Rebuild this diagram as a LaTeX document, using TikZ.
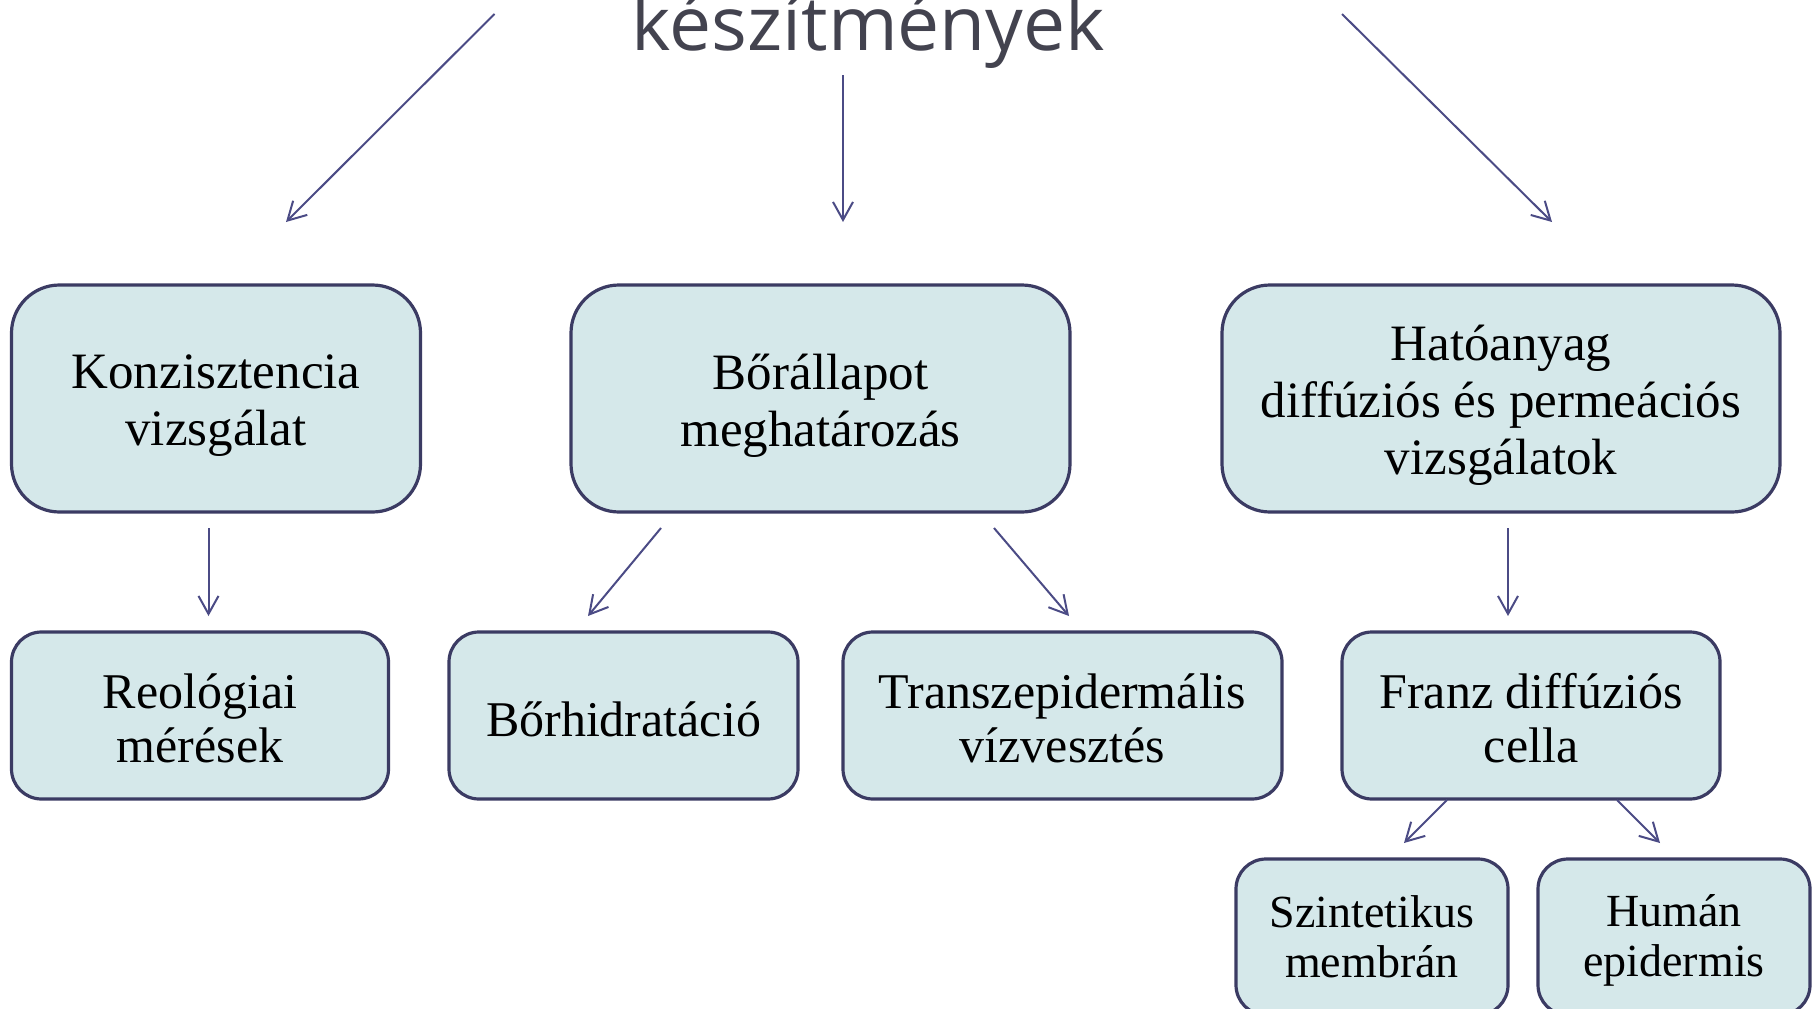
\documentclass[tikz,border=0pt]{standalone}
\usepackage{fontspec}
\setmainfont{Liberation Serif}
\newfontfamily\titlefont{Open Sans}
\usetikzlibrary{arrows.meta}
\definecolor{boxfill}{HTML}{D5E8EA}
\definecolor{boxline}{HTML}{3B3B63}
\definecolor{arrowcol}{HTML}{4B4B85}
\definecolor{titlecol}{HTML}{43434F}
\newcommand\tstrut[1]{\rule{0pt}{#1}}
\tikzset{
  box/.style={draw=boxline, fill=boxfill, line width=3.2pt, align=center, inner sep=0pt},
  bigbox/.style={box, rounded corners=48pt, minimum height=227pt, font=\fontsize{51}{57}\selectfont},
  midbox/.style={box, rounded corners=30pt, minimum height=167pt, font=\fontsize{50}{54}\selectfont},
  smallbox/.style={box, rounded corners=30pt, minimum height=156pt, font=\fontsize{46}{50}\selectfont},
  conn/.style={draw=arrowcol, line width=2pt, -{Straight Barb[length=18pt,width=20pt,line width=2pt]}}
}
\begin{document}
\begin{tikzpicture}[x=1pt,y=-1pt]
\useasboundingbox (0,0) rectangle (1816,1009);
\clip (0,0) rectangle (1816,1009);
\node[anchor=base, font=\titlefont\fontsize{75}{85}\selectfont, text=titlecol] (title) at (868.5,50) {készítmények};

\node[bigbox, minimum width=409pt] (K) at (216,398.5) {\tstrut{48pt}Konzisztencia\\vizsgálat};
\node[bigbox, minimum width=499pt] (B) at (820.5,398.5) {\tstrut{50pt}Bőrállapot\\meghatározás};
\node[bigbox, minimum width=558pt] (H) at (1501,398.5) {\tstrut{48pt}Hatóanyag\\diffúziós és permeációs\\vizsgálatok};

\node[midbox, minimum width=377pt] (R) at (200,715.5) {\tstrut{40pt}Reológiai\\mérések};
\node[midbox, minimum width=349pt] (BH) at (623.5,715.5) {\tstrut{42pt}Bőrhidratáció};
\node[midbox, minimum width=439pt] (T) at (1062.5,715.5) {\tstrut{40pt}Transzepidermális\\vízvesztés};
\node[midbox, minimum width=378pt] (F) at (1531,715.5) {\tstrut{40pt}Franz diffúziós\\cella};

\node[smallbox, minimum width=272pt] (S) at (1372,937) {Szintetikus\\membrán};
\node[smallbox, minimum width=272pt] (Hu) at (1674,937) {\tstrut{38pt}Humán\\epidermis};

% connector end points
\coordinate (t1) at (494.5,14);  \coordinate (k1) at (286,222);
\coordinate (t2) at (843,75);    \coordinate (b1) at (843,222);
\coordinate (t3) at (1342,14);   \coordinate (h1) at (1552,222);

\coordinate (ks) at (208.5,528); \coordinate (rn) at (208.5,616);
\coordinate (bs1) at (661,528);  \coordinate (bhn) at (588,616);
\coordinate (bs2) at (994,528);  \coordinate (tn) at (1069,616);
\coordinate (hs) at (1508,528);  \coordinate (fn) at (1508,616);
\coordinate (fs1) at (1447,800); \coordinate (sn) at (1404,843);
\coordinate (fs2) at (1617,800); \coordinate (hun) at (1660,843);

\draw[conn] (t1) -- (k1);
\draw[conn] (t2) -- (b1);
\draw[conn] (t3) -- (h1);
\draw[conn] (ks) -- (rn);
\draw[conn] (bs1) -- (bhn);
\draw[conn] (bs2) -- (tn);
\draw[conn] (hs) -- (fn);
\draw[conn] (fs1) -- (sn);
\draw[conn] (fs2) -- (hun);
\end{tikzpicture}
\end{document}
